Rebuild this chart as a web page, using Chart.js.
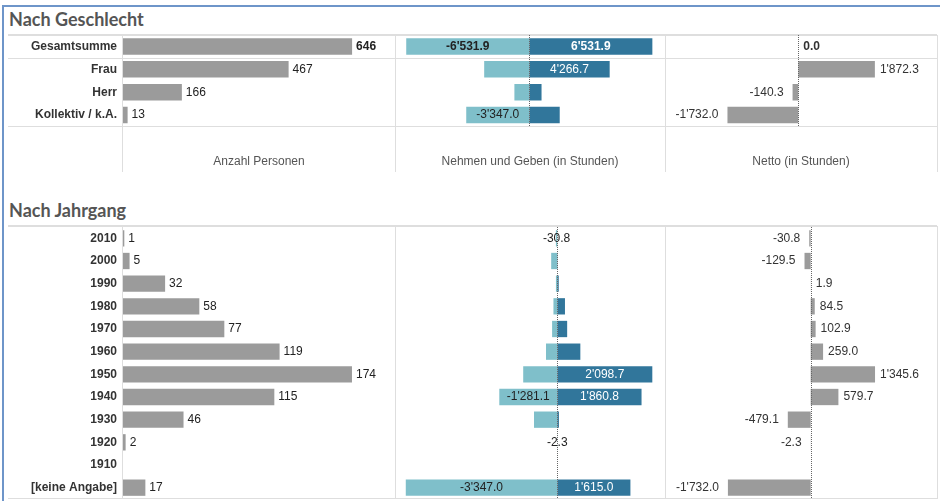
<!DOCTYPE html>
<html><head><meta charset="utf-8">
<script src="https://cdn.jsdelivr.net/npm/chart.js@4.4.1/dist/chart.umd.min.js"></script>
<style>
html,body{margin:0;padding:0;background:#fff;}
body{width:940px;height:501px;position:relative;overflow:hidden;font-family:"Liberation Sans",Arial,sans-serif;}
.frame{position:absolute;left:2px;top:5px;width:940px;height:500px;border-top:2px solid #6e95c9;border-left:2px solid #6e95c9;}
.h{position:absolute;height:1px;background:#dedede;}
.v{position:absolute;width:1px;background:#dedede;}
.title{position:absolute;left:9px;font-family:Lato,"Liberation Sans",sans-serif;font-weight:bold;font-size:18px;line-height:20px;color:#555;white-space:nowrap;}
canvas{position:absolute;}
</style></head><body>
<div class="frame"></div>
<div class="title" style="top:9px">Nach Geschlecht</div>
<div class="title" style="top:200px">Nach Jahrgang</div>

<div class="h" style="left:8px;width:929px;top:34px;height:2px"></div>
<div class="h" style="left:8px;width:929px;top:58px"></div>
<div class="h" style="left:8px;width:929px;top:126px"></div>
<div class="h" style="left:8px;width:929px;top:225px;height:2px"></div>
<div class="h" style="left:8px;width:929px;top:498px"></div>

<div class="v" style="left:122px;top:35px;height:137px"></div>
<div class="v" style="left:395px;top:35px;height:137px"></div>
<div class="v" style="left:665px;top:35px;height:137px"></div>
<div class="v" style="left:937px;top:35px;height:137px"></div>
<div class="v" style="left:122px;top:226px;height:273px"></div>
<div class="v" style="left:395px;top:226px;height:273px"></div>
<div class="v" style="left:665px;top:226px;height:273px"></div>
<div class="v" style="left:937px;top:226px;height:273px"></div>

<canvas id="g1" width="387" height="137" style="left:8px;top:35px"></canvas>
<canvas id="g2" width="270" height="137" style="left:395px;top:35px"></canvas>
<canvas id="g3" width="272" height="137" style="left:665px;top:35px"></canvas>
<canvas id="j1" width="387" height="272" style="left:8px;top:226.5px"></canvas>
<canvas id="j2" width="270" height="272" style="left:395px;top:226.5px"></canvas>
<canvas id="j3" width="272" height="272" style="left:665px;top:226.5px"></canvas>

<script>
// ---------- DATA ----------
const genderCategories = ['Gesamtsumme', 'Frau', 'Herr', 'Kollektiv / k.A.'];
const genderPersons = [646, 467, 166, 13];
const genderNehmen = [-6531.9, -2394.4, -790.5, -3347.0];
const genderGeben  = [6531.9, 4266.7, 650.2, 1615.0];
const genderNetto  = [0.0, 1872.3, -140.3, -1732.0];

const yearCategories = ['2010', '2000', '1990', '1980', '1970', '1960', '1950', '1940', '1930', '1920', '1910', '[keine Angabe]'];
const yearPersons = [1, 5, 32, 58, 77, 119, 174, 115, 46, 2, null, 17];
const yearNehmen  = [-30.8, -135.0, -30.0, -85.0, -115.0, -250.0, -753.1, -1281.1, -515.0, -2.3, null, -3347.0];
const yearGeben   = [null, 5.5, 31.9, 169.5, 217.9, 509.0, 2098.7, 1860.8, 35.9, null, null, 1615.0];
const yearNetto   = [-30.8, -129.5, 1.9, 84.5, 102.9, 259.0, 1345.6, 579.7, -479.1, -2.3, null, -1732.0];

const axisTitles = ['Anzahl Personen', 'Nehmen und Geben (in Stunden)', 'Netto (in Stunden)'];

// ---------- STYLE ----------
const GRAY = '#9b9b9b', LIGHT = '#7fbfca', DARK = '#31769b';
const FONT = '"Liberation Sans", Arial, sans-serif';

function fmt(v, dec) {
  const neg = v < 0;
  const s = Math.abs(v).toFixed(dec).split('.');
  const i = s[0].replace(/\B(?=(\d{3})+(?!\d))/g, "'");
  return (neg ? '-' : '') + i + (s.length > 1 ? '.' + s[1] : '');
}

const zeroLine = {
  id: 'zeroLine',
  afterDatasetsDraw(chart, args, o) {
    if (!o || !o.show) return;
    const x = Math.round(chart.scales.x.getPixelForValue(0)) + 0.5;
    const a = chart.chartArea, c = chart.ctx;
    c.save(); c.strokeStyle = '#666'; c.lineWidth = 1; c.setLineDash([1, 1]);
    c.beginPath(); c.moveTo(x, a.top); c.lineTo(x, a.bottom); c.stroke(); c.restore();
  }
};

const valueLabels = {
  id: 'valueLabels',
  afterDatasetsDraw(chart, args, o) {
    const c = chart.ctx;
    c.save();
    c.textBaseline = 'middle';
    const n = chart.data.labels.length;
    for (let i = 0; i < n; i++) {
      c.font = (o.boldIndex === i ? 'bold ' : '') + '12px ' + FONT;
      const present = chart.data.datasets.filter(ds => ds.data[i] !== null && ds.data[i] !== undefined).length;
      chart.data.datasets.forEach((ds, di) => {
        const v = ds.data[i];
        if (v === null || v === undefined) return;
        const el = chart.getDatasetMeta(di).data[i];
        const txt = fmt(v, o.decimals);
        if (o.mode === 'outside') {
          c.fillStyle = o.color;
          if (v >= 0) { c.textAlign = 'left'; c.fillText(txt, el.x + o.gapPos, el.y); }
          else { c.textAlign = 'right'; c.fillText(txt, el.x - o.gapNeg, el.y); }
        } else {
          const w = c.measureText(txt).width;
          const bw = Math.abs(el.x - el.base);
          const cx = (el.x + el.base) / 2;
          c.textAlign = 'center';
          if (w + 6 <= bw) { c.fillStyle = o.insideColors[di]; c.fillText(txt, cx, el.y); }
          else if (present === 1) { c.fillStyle = o.color; c.fillText(txt, cx, el.y); }
        }
      });
    }
    c.restore();
  }
};

function makeChart(id, labels, datasets, cfg) {
  const top = !!cfg.top;
  const xScale = {
    type: 'linear', min: cfg.min, max: cfg.max, stacked: !!cfg.stacked,
    display: top,
    grid: { display: false, drawTicks: false },
    border: { display: false },
    ticks: { display: false },
    title: { display: top, text: cfg.title || '', color: '#555', font: { family: FONT, size: 12 }, padding: { top: 0, bottom: 3 } }
  };
  if (top) xScale.afterFit = s => { s.height = 45.5; s.paddingLeft = 0; s.paddingRight = 0; };
  const yScale = {
    type: 'category', stacked: !!cfg.stacked,
    display: !!cfg.showY,
    grid: { display: false, drawTicks: false },
    border: { display: false },
    ticks: { autoSkip: false, color: '#333', padding: 6, font: { family: FONT, size: 12, weight: 'bold' } }
  };
  if (cfg.showY) yScale.afterFit = s => { s.width = 115; s.paddingTop = 0; s.paddingBottom = 0; };
  return new Chart(document.getElementById(id), {
    type: 'bar',
    data: { labels: labels, datasets: datasets },
    options: {
      indexAxis: 'y', responsive: false, animation: false, devicePixelRatio: 1,
      layout: { padding: 0 },
      scales: { x: xScale, y: yScale },
      datasets: { bar: { categoryPercentage: 1, barPercentage: 0.72, borderWidth: 0 } },
      plugins: {
        legend: { display: false }, tooltip: { enabled: false }, title: { display: false },
        zeroLine: { show: !!cfg.zero },
        valueLabels: cfg.labels
      }
    },
    plugins: [zeroLine, valueLabels]
  });
}

const outsideInt = b => ({ mode: 'outside', decimals: 0, color: '#222', gapPos: 4, gapNeg: 9, boldIndex: b });
const outsideDec = b => ({ mode: 'outside', decimals: 1, color: '#333', gapPos: 5, gapNeg: 9, boldIndex: b });
const inside = b => ({ mode: 'inside', decimals: 1, color: '#222', insideColors: ['#222', '#fff'], boldIndex: b });

// Nach Geschlecht
makeChart('g1', genderCategories, [{ data: genderPersons, backgroundColor: GRAY }],
  { top: true, showY: true, min: 0, max: 767, title: axisTitles[0], labels: outsideInt(0) });
makeChart('g2', genderCategories, [
  { data: genderNehmen, backgroundColor: LIGHT },
  { data: genderGeben, backgroundColor: DARK }],
  { top: true, stacked: true, zero: true, min: -7128, max: 7203, title: axisTitles[1], labels: inside(0) });
makeChart('g3', genderCategories, [{ data: genderNetto, backgroundColor: GRAY }],
  { top: true, zero: true, min: -3259, max: 3391, title: axisTitles[2], labels: outsideDec(0) });

// Nach Jahrgang
makeChart('j1', yearCategories, [{ data: yearPersons, backgroundColor: GRAY }],
  { showY: true, min: 0, max: 206.7, labels: outsideInt(-1) });
makeChart('j2', yearCategories, [
  { data: yearNehmen, backgroundColor: LIGHT },
  { data: yearGeben, backgroundColor: DARK }],
  { stacked: true, zero: true, min: -3585, max: 2379, labels: inside(-1) });
makeChart('j3', yearCategories, [{ data: yearNetto, backgroundColor: GRAY }],
  { zero: true, min: -3048, max: 2642, labels: outsideDec(-1) });
</script>
</body></html>
